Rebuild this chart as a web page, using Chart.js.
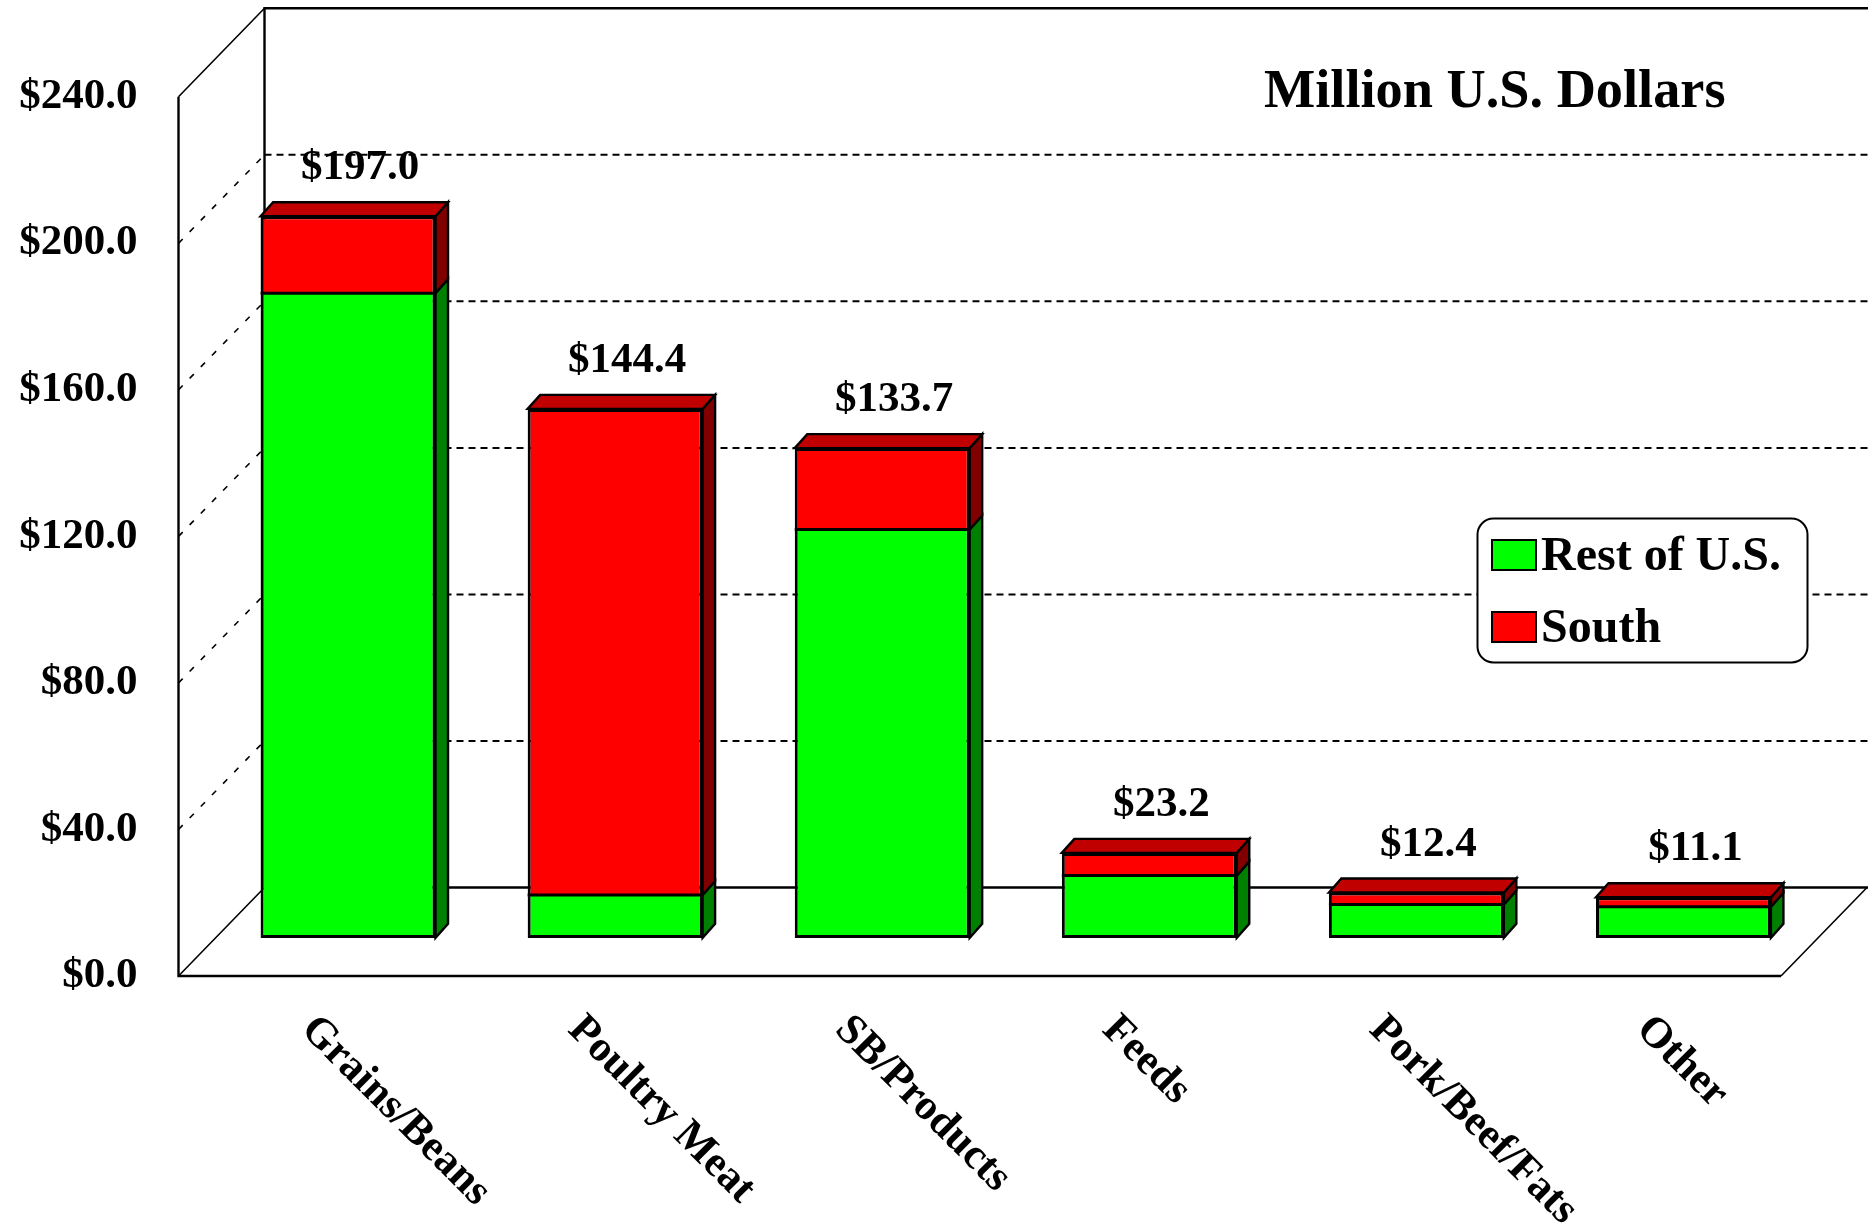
<!DOCTYPE html>
<html>
<head>
<meta charset="utf-8">
<style>html,body{margin:0;padding:0;background:#fff}canvas{display:block}</style>
<script src="https://cdn.jsdelivr.net/npm/chart.js@4"></script>
</head>
<body>
<canvas id="c" width="1868" height="1224"></canvas>
<script>
const categories = ['Grains/Beans','Poultry Meat','SB/Products','Feeds','Pork/Beef/Fats','Other'];
const restOfUS = [176, 11.7, 111.5, 17, 9.1, 8.5];
const south = [21, 132.7, 22.2, 6.2, 3.3, 2.6];
const totals = [197.0, 144.4, 133.7, 23.2, 12.4, 11.1];
const seriesNames = ['Rest of U.S.', 'South'];
const titleText = 'Million U.S. Dollars';
const axisMin = 0, axisMax = 240, axisStep = 40;

const SERIF = '"Liberation Serif","Times New Roman",serif';
const floorInset = 10.4;           // value units between the front plane and the bars' base
const planeDX = 36;                // bars sit this far right of the front plane
const wallDX = 86, wallDY = 88.5;  // depth of the back wall
const barDX = 12.5, barDY = 14;    // depth of each bar
const sideColors = ['#008000', '#800000'];
const topColor = '#C00000';

const depth3d = {
  id: 'depth3d',
  beforeDraw(chart) {
    const {ctx, chartArea: a} = chart;
    const s = chart.scales.yAxis;
    const fx0 = a.left - planeDX, fx1 = a.right - planeDX;
    const bx0 = fx0 + wallDX, W = chart.width;
    ctx.save();
    ctx.strokeStyle = '#000';
    // dashed levels
    for (let v = axisMin + axisStep; v < axisMax; v += axisStep) {
      const y = s.getPixelForValue(v);
      ctx.setLineDash([7, 5]); ctx.lineWidth = 2;
      ctx.beginPath(); ctx.moveTo(bx0, y - wallDY); ctx.lineTo(W, y - wallDY); ctx.stroke();
      ctx.setLineDash([6, 10]); ctx.lineWidth = 1.6;
      ctx.beginPath(); ctx.moveTo(fx0, y); ctx.lineTo(bx0, y - wallDY); ctx.stroke();
    }
    ctx.setLineDash([]);
    const y0 = s.getPixelForValue(axisMin), yT = s.getPixelForValue(axisMax);
    ctx.lineWidth = 2.4;
    ctx.beginPath();
    ctx.moveTo(fx0, yT); ctx.lineTo(fx0, y0); ctx.lineTo(fx1, y0);
    ctx.moveTo(bx0, y0 - wallDY); ctx.lineTo(W, y0 - wallDY);
    ctx.moveTo(bx0, y0 - wallDY); ctx.lineTo(bx0, yT - wallDY); ctx.lineTo(W, yT - wallDY);
    ctx.stroke();
    ctx.lineWidth = 1.6;
    ctx.beginPath();
    ctx.moveTo(fx0, y0); ctx.lineTo(bx0, y0 - wallDY);
    ctx.moveTo(fx0, yT); ctx.lineTo(bx0, yT - wallDY);
    ctx.moveTo(fx1, y0); ctx.lineTo(fx1 + wallDX, y0 - wallDY);
    ctx.stroke();
    ctx.restore();
  },
  beforeDatasetsDraw(chart) {
    const {ctx} = chart;
    ctx.save();
    ctx.strokeStyle = '#000'; ctx.lineWidth = 2.4; ctx.lineJoin = 'miter';
    chart.data.datasets.forEach((ds, di) => {
      chart.getDatasetMeta(di).data.forEach(el => {
        const r = el.x + el.width / 2, l = el.x - el.width / 2;
        ctx.fillStyle = sideColors[di];
        ctx.beginPath();
        ctx.moveTo(r, el.y); ctx.lineTo(r + barDX, el.y - barDY);
        ctx.lineTo(r + barDX, el.base - barDY); ctx.lineTo(r, el.base);
        ctx.closePath(); ctx.fill(); ctx.stroke();
        if (di === chart.data.datasets.length - 1) {
          ctx.fillStyle = topColor;
          ctx.beginPath();
          ctx.moveTo(l, el.y); ctx.lineTo(l + barDX, el.y - barDY);
          ctx.lineTo(r + barDX, el.y - barDY); ctx.lineTo(r, el.y);
          ctx.closePath(); ctx.fill(); ctx.stroke();
        }
      });
    });
    ctx.restore();
  },
  afterDatasetsDraw(chart) {
    const {ctx} = chart;
    ctx.save();
    const top = chart.getDatasetMeta(chart.data.datasets.length - 1).data;
    // dividing line between the two stacked segments
    ctx.strokeStyle = '#000'; ctx.lineWidth = 3;
    top.forEach(el => {
      ctx.beginPath();
      ctx.moveTo(el.x - el.width / 2, el.base);
      ctx.lineTo(el.x + el.width / 2, el.base);
      ctx.stroke();
    });
    // totals above the bars
    ctx.fillStyle = '#000';
    ctx.font = 'bold 43px ' + SERIF;
    ctx.textAlign = 'center'; ctx.textBaseline = 'middle';
    top.forEach((el, i) => ctx.fillText('$' + totals[i].toFixed(1), el.x + 12, el.y - 48));
    // title
    ctx.font = 'bold 54.3px ' + SERIF;
    ctx.textAlign = 'left';
    ctx.fillText(titleText, 1264, 93);
    // legend
    ctx.fillStyle = '#fff'; ctx.strokeStyle = '#000'; ctx.lineWidth = 2;
    ctx.beginPath(); ctx.roundRect(1477.5, 518.5, 330, 144, 16); ctx.fill(); ctx.stroke();
    ctx.font = 'bold 48px ' + SERIF;
    chart.data.datasets.forEach((ds, i) => {
      const y = 540 + i * 72;
      ctx.fillStyle = ds.backgroundColor;
      ctx.fillRect(1492, y, 44, 30); ctx.strokeRect(1492, y, 44, 30);
      ctx.fillStyle = '#000';
      ctx.fillText(ds.label, 1541, y + 18);
    });
    ctx.restore();
  }
};

new Chart(document.getElementById('c'), {
  type: 'bar',
  data: {
    labels: categories,
    datasets: [
      {label: seriesNames[0], data: restOfUS, backgroundColor: '#00FF00', yAxisID: 'y',
       borderWidth: {top: 0, left: 3, right: 3, bottom: 3}},
      {label: seriesNames[1], data: south, backgroundColor: '#FF0000', yAxisID: 'y',
       borderWidth: {top: 3, left: 3, right: 3, bottom: 0}}
    ]
  },
  plugins: [depth3d],
  options: {
    responsive: false,
    animation: false,
    layout: {padding: {left: 0, right: 51, top: 96.8, bottom: 0}},
    elements: {bar: {borderColor: '#000', borderSkipped: false, inflateAmount: 0}},
    datasets: {bar: {categoryPercentage: 1, barPercentage: 0.655}},
    plugins: {legend: {display: false}, title: {display: false}, tooltip: {enabled: false}},
    scales: {
      x: {
        stacked: true,
        grid: {display: false, drawTicks: false},
        border: {display: false},
        ticks: {
          color: '#000', font: {family: SERIF, size: 43, weight: 'bold'},
          minRotation: -45, maxRotation: -45, autoSkip: false, padding: 29, labelOffset: -40.5
        },
        afterFit(scale) {
          scale.height = 248;
          scale._getXAxisLabelAlignment = () => 'left';
        }
      },
      y: {stacked: true, display: false, min: axisMin - floorInset, max: axisMax - floorInset},
      yAxis: {
        position: 'left', min: axisMin, max: axisMax,
        grid: {display: false, drawTicks: false},
        border: {display: false},
        ticks: {
          stepSize: axisStep, padding: 77, color: '#000',
          font: {family: SERIF, size: 43, weight: 'bold'},
          callback: v => '$' + v.toFixed(1)
        },
        afterFit(scale) { scale.width = 214.5; scale.paddingTop = 0; scale.paddingBottom = 0; }
      }
    }
  }
});
</script>
</body>
</html>
